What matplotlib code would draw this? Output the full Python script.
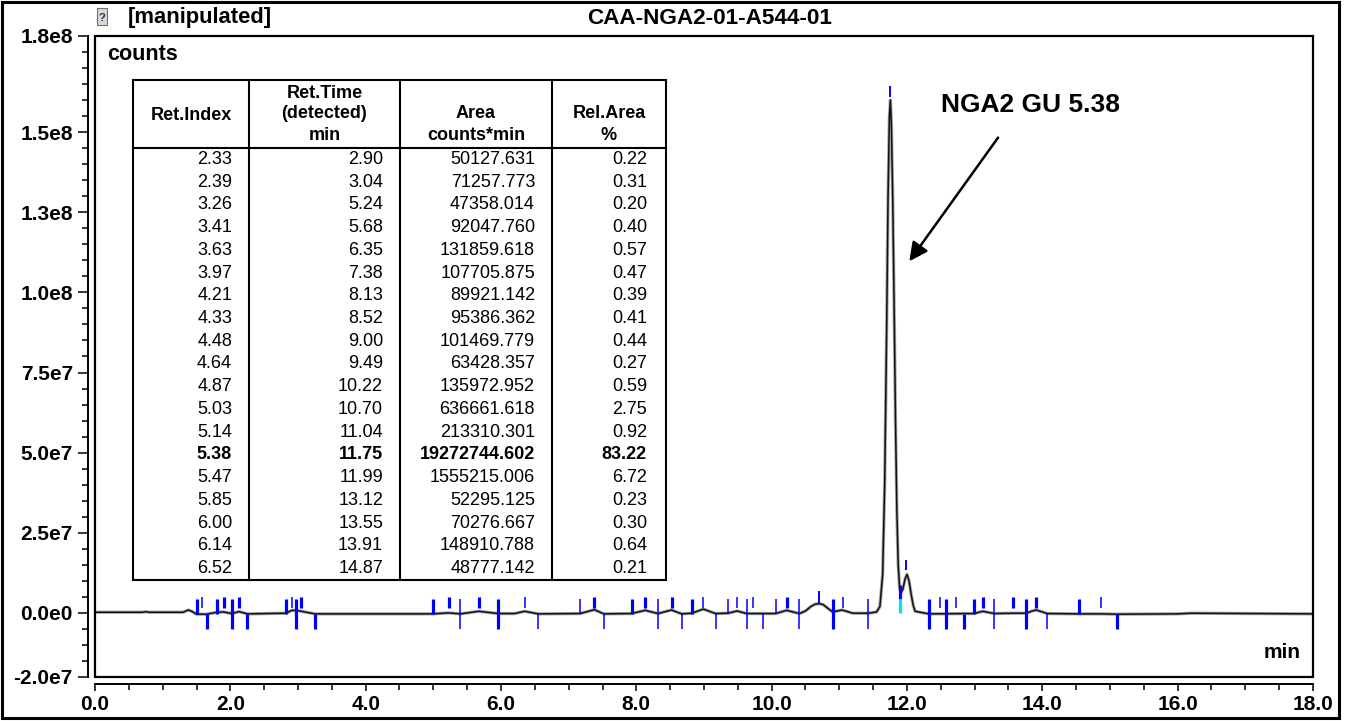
import matplotlib
matplotlib.use("Agg")
import matplotlib.pyplot as plt
import matplotlib.ticker as mticker
from matplotlib.patches import Rectangle
from matplotlib.lines import Line2D

plt.rcParams['font.family'] = ['Liberation Sans', 'DejaVu Sans']

# chromatogram trace (signal in 1e6 counts)
trace_time = [0.0, 0.70, 0.75, 0.80, 1.30, 1.38, 1.43, 1.50, 1.65, 1.80,
              1.90, 2.02, 2.13, 2.25, 2.82, 2.91, 3.00, 3.10, 3.25, 4.99,
              5.23, 5.40, 5.67, 5.96, 6.20, 6.35, 6.55, 7.17, 7.38, 7.52,
              7.93, 8.13, 8.32, 8.52, 8.67, 8.82, 8.99, 9.17, 9.35, 9.49,
              9.63, 10.06, 10.22, 10.41, 10.50, 10.58, 10.64, 10.70, 10.76, 10.82,
              10.90, 11.04, 11.20, 11.43, 11.55, 11.60, 11.64, 11.67, 11.70, 11.72,
              11.74, 11.755, 11.77, 11.79, 11.81, 11.83, 11.85, 11.87, 11.89, 11.91,
              11.94, 11.97, 12.00, 12.03, 12.06, 12.09, 12.12, 12.32, 12.99, 13.12,
              13.29, 13.56, 13.76, 13.85, 13.91, 13.97, 14.07, 14.54, 14.87, 15.10,
              16.0, 16.2, 18.0]
trace_signal = [0.2, 0.2, 0.35, 0.2, 0.2, 0.9, 0.5, -0.4, -0.4, 0.2,
                0.3, -0.2, 0.4, -0.3, -0.1, 0.8, 0.7, 0.3, -0.3, -0.3,
                0.0, -0.3, 0.5, -0.2, -0.2, 0.5, -0.3, -0.2, 1.0, -0.3,
                -0.2, 0.8, -0.2, 0.9, -0.3, -0.1, 1.2, -0.2, -0.1, 0.6,
                -0.2, -0.2, 0.8, -0.2, 0.6, 2.0, 2.7, 2.9, 2.6, 1.6,
                0.3, 0.9, -0.1, -0.1, 0.3, 2.0, 12.0, 40.0, 90.0, 130.0,
                155.0, 160.0, 152.0, 128.0, 95.0, 60.0, 32.0, 15.0, 8.0, 6.2,
                7.5, 10.5, 12.0, 10.0, 6.0, 2.5, 0.5, -0.3, -0.2, 0.5,
                -0.2, -0.1, -0.1, 0.6, 0.9, 0.5, -0.2, -0.3, -0.3, -0.4,
                -0.3, -0.1, -0.3]

# blue peak markers (1 = thick line)
apex_times = [1.58, 1.91, 2.13, 2.91, 3.04, 5.23, 5.67, 6.35, 7.38, 8.13, 8.52,
              8.99, 9.49, 9.73, 10.22, 11.05, 12.49, 12.73, 13.12, 13.56, 13.91, 14.87]
apex_thick = [0, 1, 1, 0, 1, 1, 1, 0, 1, 1, 1, 0, 0, 0, 1, 0, 0, 0, 1, 1, 1, 0]
start_times = [1.50, 1.81, 2.82, 4.99, 7.17, 7.93, 8.82, 9.35, 10.06, 12.99, 14.54]
start_thick = [1, 1, 1, 1, 0, 1, 1, 0, 0, 1, 1]
cross_times = [2.02, 2.97, 5.40, 5.96, 8.32, 9.63, 10.41, 10.90, 11.43, 12.32, 12.58, 13.29, 13.76]
cross_thick = [1, 1, 0, 1, 0, 0, 0, 1, 0, 1, 1, 0, 1]
end_times = [1.66, 2.25, 3.25, 6.55, 7.52, 8.67, 9.17, 9.87, 12.84, 14.07, 15.10]
end_thick = [1, 1, 1, 0, 0, 0, 0, 0, 1, 0, 1]
top_times = [10.70, 11.75, 11.99]
top_low = [3.1, 161.0, 13.4]
top_high = [6.8, 164.5, 16.5]
valley_time = 11.90

# peak table
ret_index = [2.33, 2.39, 3.26, 3.41, 3.63, 3.97, 4.21, 4.33, 4.48, 4.64,
             4.87, 5.03, 5.14, 5.38, 5.47, 5.85, 6.00, 6.14, 6.52]
ret_time = [2.90, 3.04, 5.24, 5.68, 6.35, 7.38, 8.13, 8.52, 9.00, 9.49,
            10.22, 10.70, 11.04, 11.75, 11.99, 13.12, 13.55, 13.91, 14.87]
area = [50127.631, 71257.773, 47358.014, 92047.760, 131859.618, 107705.875,
        89921.142, 95386.362, 101469.779, 63428.357, 135972.952, 636661.618,
        213310.301, 19272744.602, 1555215.006, 52295.125, 70276.667,
        148910.788, 48777.142]
rel_area = [0.22, 0.31, 0.20, 0.40, 0.57, 0.47, 0.39, 0.41, 0.44, 0.27,
            0.59, 2.75, 0.92, 83.22, 6.72, 0.23, 0.30, 0.64, 0.21]
bold_row = 13

ytick_vals = [-2e7, 0, 2.5e7, 5e7, 7.5e7, 1e8, 1.25e8, 1.5e8, 1.8e8]
ytick_labels = ["-2.0e7", "0.0e0", "2.5e7", "5.0e7", "7.5e7", "1.0e8", "1.3e8", "1.5e8", "1.8e8"]

W, H = 1346, 721
fig = plt.figure(figsize=(W / 100, H / 100), dpi=100)


def fx(x):
    return x / W


def fy(y):
    return 1 - y / H


ax = fig.add_axes([fx(95), fy(677), fx(1313) - fx(95), fy(36) - fy(677)])
ax.set_xlim(0, 18)
ax.set_ylim(-2e7, 1.8e8)

# trace
sig = [v * 1e6 for v in trace_signal]
ax.plot(trace_time, sig, color='#a8a8a8', lw=2.4, zorder=3)
ax.plot(trace_time, sig, color='#111111', lw=1.1, zorder=4)

blue = '#0000ff'
thick_w, thin_w = 2.3, 1.1


def widths(flags):
    return [thick_w if f else thin_w for f in flags]


ax.vlines(apex_times, 1.4e6, 5.0e6, colors=blue, linewidths=widths(apex_thick), zorder=5)
ax.vlines(start_times, -0.3e6, 4.2e6, colors=blue, linewidths=widths(start_thick), zorder=5)
ax.vlines(cross_times, -5.0e6, 4.4e6, colors=blue, linewidths=widths(cross_thick), zorder=5)
ax.vlines(end_times, -5.0e6, -0.3e6, colors=blue, linewidths=widths(end_thick), zorder=5)
ax.vlines(top_times, [v * 1e6 for v in top_low], [v * 1e6 for v in top_high],
          colors=blue, linewidths=1.4, zorder=5)
ax.vlines([valley_time], 4.4e6, 8.7e6, colors=blue, linewidths=thick_w, zorder=5)
ax.vlines([valley_time], 0, 4.4e6, colors='#00e5ee', linewidths=thick_w, zorder=5)

# axes styling: inner frame + offset tick axes
for s in ['top', 'right']:
    ax.spines[s].set_visible(False)
for s in ['left', 'bottom']:
    ax.spines[s].set_position(('outward', 5))
    ax.spines[s].set_linewidth(1.4)
ax.add_patch(Rectangle((0, 0), 1, 1, transform=ax.transAxes, fill=False,
                       lw=1.6, edgecolor='black', clip_on=False, zorder=6))

ax.yaxis.set_major_locator(mticker.FixedLocator(ytick_vals))
ax.yaxis.set_major_formatter(mticker.FixedFormatter(ytick_labels))
ax.yaxis.set_minor_locator(mticker.MultipleLocator(5e6))
ax.xaxis.set_major_locator(mticker.MultipleLocator(2))
ax.xaxis.set_major_formatter(mticker.FormatStrFormatter('%.1f'))
ax.xaxis.set_minor_locator(mticker.MultipleLocator(0.5))
ax.tick_params(axis='y', which='major', length=7, width=1.1, pad=4, labelsize=15)
ax.tick_params(axis='y', which='minor', length=4, width=1.1)
ax.tick_params(axis='x', which='major', length=5, width=1.1, pad=3, labelsize=15)
ax.tick_params(axis='x', which='minor', length=4, width=1.1)
for lab in ax.get_xticklabels() + ax.get_yticklabels():
    lab.set_fontweight('bold')

# texts
fig.text(fx(107), fy(55), "counts", fontsize=15.5, fontweight='bold', va='center', ha='left')
fig.text(fx(1301), fy(653), "min", fontsize=15, fontweight='bold', va='center', ha='right')
fig.text(fx(128), fy(18), "[manipulated]", fontsize=15.8, fontweight='bold', va='center', ha='left')
fig.text(fx(710), fy(18), "CAA-NGA2-01-A544-01", fontsize=16.2, fontweight='bold', va='center', ha='center')
fig.add_artist(Rectangle((fx(97), fy(25)), fx(10), 17 / H, transform=fig.transFigure,
                         facecolor='#d8d8d8', edgecolor='#707070', lw=0.8))
fig.text(fx(102), fy(18), "?", fontsize=8, fontweight='bold', color='#303060', ha='center', va='center')

ax.text(13.82, 1.585e8, "NGA2 GU 5.38", fontsize=19, fontweight='bold', ha='center', va='center')
ax.annotate('', xy=(12.01, 1.09e8), xytext=(13.37, 1.49e8),
            arrowprops=dict(arrowstyle='-|>', lw=1.8, color='black', mutation_scale=28))

# peak table
t_left, t_right, t_top, t_head, t_bot = 133, 666, 80, 148, 580
col_lines = [249, 400, 552]
row_h = (t_bot - t_head) / len(ret_index)
fig.add_artist(Rectangle((fx(t_left), fy(t_bot)), fx(t_right) - fx(t_left), fy(t_top) - fy(t_bot),
                         transform=fig.transFigure, facecolor='white', edgecolor='black', lw=1.5, zorder=7))
fig.add_artist(Line2D([fx(t_left), fx(t_right)], [fy(t_head), fy(t_head)], transform=fig.transFigure,
                      color='black', lw=1.5, zorder=8))
for cx in col_lines:
    fig.add_artist(Line2D([fx(cx), fx(cx)], [fy(t_top), fy(t_bot)], transform=fig.transFigure,
                          color='black', lw=1.5, zorder=8))

head_x = [191, 324.5, 476, 609]
headers = [[("Ret.Index", 115)],
           [("Ret.Time", 93), ("(detected)", 114), ("min", 136)],
           [("Area", 114), ("counts*min", 135)],
           [("Rel.Area", 114), ("%", 135)]]
for hx, lines in zip(head_x, headers):
    for txt, hy in lines:
        fig.text(fx(hx), fy(hy), txt, fontsize=13, fontweight='bold', ha='center', va='center', zorder=9)

right_x = [232, 383, 535, 647]
for i in range(len(ret_index)):
    ry = t_head + row_h * (i + 0.5)
    wt = 'bold' if i == bold_row else 'normal'
    vals = ["%.2f" % ret_index[i], "%.2f" % ret_time[i], "%.3f" % area[i], "%.2f" % rel_area[i]]
    for rx, v in zip(right_x, vals):
        fig.text(fx(rx), fy(ry), v, fontsize=13, fontweight=wt, ha='right', va='center', zorder=9)

# outer border
fig.add_artist(Rectangle((fx(1.5), fy(718)), fx(1339) - fx(1.5), fy(1.5) - fy(718),
                         transform=fig.transFigure, fill=False, edgecolor='black', lw=2.2))

fig.savefig("out.png", dpi=100)
